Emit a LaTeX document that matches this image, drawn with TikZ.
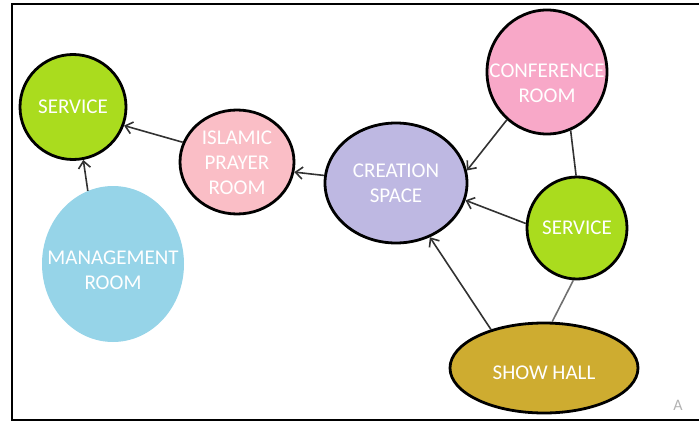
\documentclass[tikz,border=0pt]{standalone}
\usepackage{fontspec}
\setmainfont{Carlito}
\usetikzlibrary{shapes.geometric,arrows.meta}
\definecolor{svgreen}{RGB}{170,220,30}
\definecolor{prayerpink}{RGB}{250,190,198}
\definecolor{confpink}{RGB}{248,168,200}
\definecolor{mgblue}{RGB}{150,212,232}
\definecolor{crpurple}{RGB}{190,184,226}
\definecolor{hallgold}{RGB}{206,172,48}
\definecolor{linkgray}{RGB}{50,50,50}
\begin{document}
\begin{tikzpicture}[x=1pt,y=-1pt,
  room/.style={ellipse, draw=black, line width=2.8pt, inner sep=0pt},
  roomtext/.style={text=white, font=\fontsize{21}{25}\selectfont, align=center, inner sep=0pt},
  link/.style={draw=linkgray, line width=1.6pt},
  arr/.style={link, -{Straight Barb[length=7pt,width=12pt]}}]
\useasboundingbox (0,0) rectangle (699,423);
\draw[line width=1.6pt] (699,4) -- (12,4) -- (12,420) -- (699,420);

\node[room, fill=svgreen, minimum width=106pt, minimum height=105pt] (svl) at (73,107) {};
\node[roomtext] (svltext) at (svl.center) {SERVICE};

\node[room, fill=prayerpink, minimum width=114pt, minimum height=104pt] (isl) at (237,162) {};
\node[roomtext] (isltext) at ([yshift=-1pt]isl.center) {ISLAMIC\\PRAYER\\ROOM};

\node[ellipse, fill=mgblue, inner sep=0pt, minimum width=142pt, minimum height=156pt] (mgmt) at (113,264) {};
\node[roomtext] (mgmttext) at ([yshift=-6pt]mgmt.center) {MANAGEMENT\\ROOM};

\node[room, fill=crpurple, minimum width=142pt, minimum height=120pt] (cre) at (396,183) {};
\node[roomtext] (cretext) at (cre.center) {CREATION\\SPACE};

\node[room, fill=confpink, minimum width=120pt, minimum height=124pt] (conf) at (547,72) {};
\node[roomtext] (conftext) at ([yshift=-11pt]conf.center) {CONFERENCE\\ROOM};

\node[room, fill=svgreen, minimum width=100pt, minimum height=102pt] (svr) at (577,228) {};
\node[roomtext] (svrtext) at (svr.center) {SERVICE};

\node[room, fill=hallgold, minimum width=188pt, minimum height=90pt] (hall) at (544,368) {};
\node[roomtext] (halltext) at ([yshift=-5pt]hall.center) {SHOW HALL};

\node[text=black!30, font=\fontsize{16}{16}\selectfont, inner sep=0pt] (mark) at (678,405) {A};

\draw[arr] (isl.160) -- (svl.-20);
\draw[arr] (mgmt.109) -- (svl.-79);
\draw[arr] (cre.174) -- (isl.-10);
\draw[arr] (conf.230) -- (cre.10);
\draw[link] (conf.-68) -- (svr.91);
\draw[arr] (svr.175) -- (cre.-14);
\draw[arr] (hall.144) -- (cre.-58);
\draw[link, draw=linkgray!70] (hall.80) -- (svr.-94);
\end{tikzpicture}
\end{document}
